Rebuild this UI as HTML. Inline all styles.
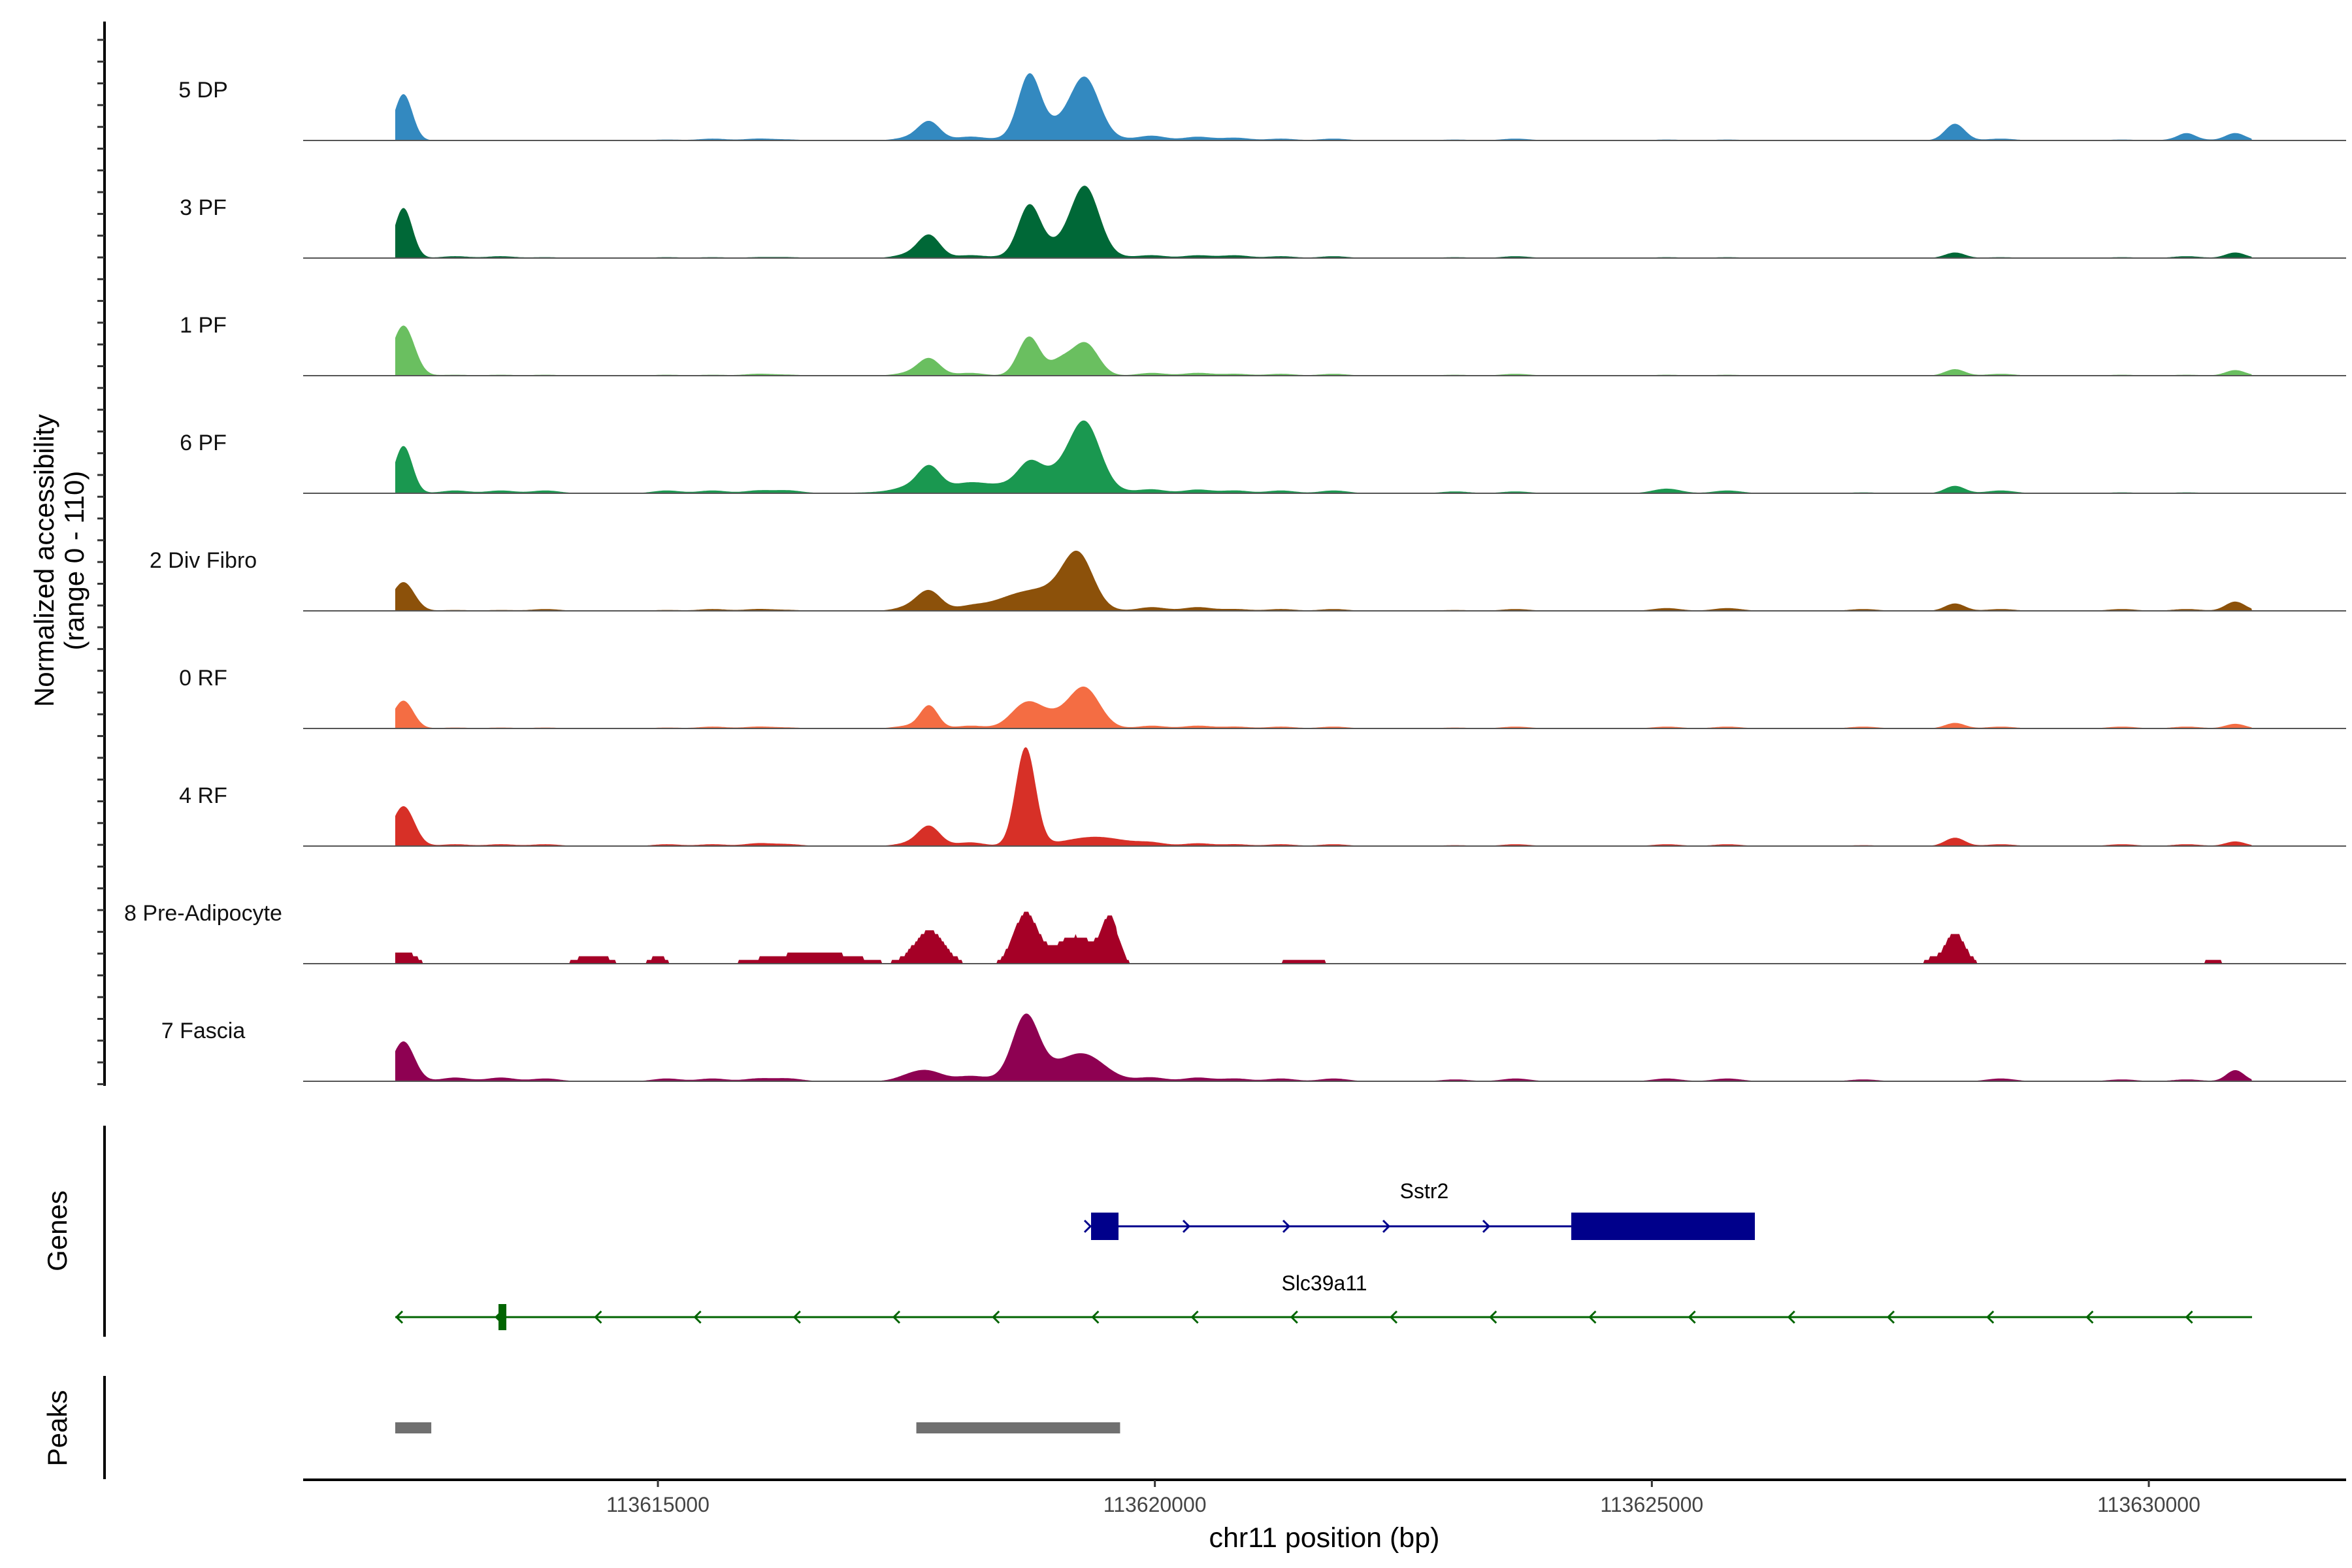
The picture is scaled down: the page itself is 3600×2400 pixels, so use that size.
<!DOCTYPE html>
<html><head><meta charset="utf-8"><style>
html,body{margin:0;padding:0;background:#fff}
svg{display:block;font-family:"Liberation Sans",Arial,sans-serif}
</style></head><body>
<svg id="chart" width="3600" height="2400" viewBox="0 0 3600 2400" xmlns="http://www.w3.org/2000/svg">
<g id="tracks"></g>
<g id="axes"></g>
<g id="genes"></g>
<g id="peaks"></g>
</svg>
<script>
// ---- data ----
const trackNames = ["5 DP","3 PF","1 PF","6 PF","2 Div Fibro","0 RF","4 RF","8 Pre-Adipocyte","7 Fascia"];
const trackColors = ["#3389c0","#006837","#6abf60","#1a9850","#8c510a","#f46d43","#d73027","#a50026","#8e0152"];
// major peaks: centers (bp), heights (normalized 0-110), widths (bp sigma)
const peakPos = [
 [113612440,113617730,113618735,113619300,113619050,113628050,113630870,113630380],
 [113612440,113617730,113618735,113619300,113619050,113628050,113630870],
 [113612440,113617730,113618735,113619050,113619300,113628050,113630870],
 [113612440,113617730,113618735,113619050,113619300,113618300,113628050],
 [113612440,113617730,113618600,113619000,113619230,113628050,113630870],
 [113612440,113617730,113618700,113619000,113619300,113628050,113630870],
 [113612440,113617730,113618700,113619400,113628050,113630870],
 [113612440,113614350,113615000,113616300,113616800,113617730,113618700,113619200,113619550,113621500,113627800,113628050,113630650],
 [113612440,113617730,113618700,113619300,113619000,113630870]
];
const peakHt = [
 [50,20,62,56,18,18,8,5],
 [54,24,50,68,14,6,6],
 [54,18,42,15,35,7,6],
 [51,24,18,20,62,8,8],
 [31,21,14,18,52,8,10],
 [30,24,22,14,38,6,5],
 [43,21,106,10,9,5],
 [14,10,8,8,8,36,54,30,46,6,5,33,5],
 [43,10,63,20,14,12]
];
const peakWid = [
 [90,110,110,140,300,100,100,80],
 [90,110,110,140,300,100,100],
 [110,110,110,110,130,100,100],
 [90,110,110,300,150,600,100],
 [110,120,250,250,150,100,100],
 [100,90,150,250,150,100,100],
 [110,110,100,300,100,100],
 [110,150,80,350,300,150,120,200,80,180,60,100,80],
 [110,150,130,200,350,90]
];
// low background bumps shared positions, per-track heights
const bumpPos = [113612960,113613420,113613870,113615090,113615550,113616010,113616310,113617530,113618140,113619970,113620430,113620810,113621270,113621800,113623020,113623630,113625150,113625760,113627130,113628510,113629730,113630380];
const bumpHt = [
 [0,0,0,1,2,2,1,3,4,5,4,3,2,2,1,2,1,1,0,2,1,3],
 [2,2,1,1,1,1,1,4,3,3,3,3,2,2,1,2,1,1,0,1,1,2],
 [1,1,1,1,1,2,1,3,3,3,3,2,2,2,1,2,1,1,0,2,1,1],
 [3,3,3,3,3,3,3,4,4,4,4,3,3,3,2,2,5,3,1,3,1,1],
 [1,1,2,1,2,2,1,4,4,4,4,2,2,2,1,2,3,3,2,2,2,2],
 [1,1,1,1,2,2,1,3,3,3,3,2,2,2,1,2,2,2,2,2,2,2],
 [2,2,2,2,2,3,2,3,4,3,3,2,2,2,1,2,2,2,1,2,2,2],
 [0,0,0,0,0,0,0,0,0,0,0,0,0,0,0,0,0,0,0,0,0,0],
 [4,4,3,3,3,3,3,5,5,4,4,3,3,3,2,3,3,3,2,3,2,2]
];
const xTicks = [113615000,113620000,113625000,113630000];
const regionStart = 113612357, regionEnd = 113631039;
const peakStarts = [113612357,113617600];
const peakEnds = [113612720,113619650];

// ---- scales ----
const NS="http://www.w3.org/2000/svg";
function X(bp){return 1007+(bp-113615000)*0.152133;}
const base0=215, trackStep=180, yScale=1.42;
function mk(tag,attrs,parent){const e=document.createElementNS(NS,tag);for(const k in attrs)e.setAttribute(k,attrs[k]);parent.appendChild(e);return e;}

const tracks=document.getElementById('tracks');
for(let t=0;t<trackNames.length;t++){
  const by=base0+t*trackStep;
  const g=mk('g',{},tracks);
  
  
  let d='M'+X(regionStart).toFixed(1)+','+by;
  for(let bp=regionStart;bp<=regionEnd;bp+=14){
    let v=0;
    for(let i=0;i<peakPos[t].length;i++){const z=(bp-peakPos[t][i])/peakWid[t][i];v+=peakHt[t][i]*Math.exp(-0.5*z*z);}
    for(let i=0;i<bumpPos.length;i++){const z=(bp-bumpPos[i])/140;v+=bumpHt[t][i]*Math.exp(-0.5*z*z);}
    if(t===7){v=v<3?0:Math.round(v/4)*4;}
    v=Math.min(v,110);
    d+='L'+X(bp).toFixed(1)+','+(by-v*yScale).toFixed(1);
  }
  d+='L'+X(regionEnd).toFixed(1)+','+by+'Z';
  const p=mk('path',{d:d,fill:trackColors[t]},g);
  
  
  const l=mk('line',{x1:464,x2:3591,y1:by,y2:by,stroke:'#555','stroke-width':2},g);
  
  
  const tx=mk('text',{x:311,y:by-66,'font-size':34,'text-anchor':'middle',fill:'#111'},g);
  tx.textContent=trackNames[t];
  
  
}

// ---- axes ----
const axes=document.getElementById('axes');
mk('line',{x1:160,x2:160,y1:33,y2:1662,stroke:'#000','stroke-width':4},axes);
for(let y=61;y<1660;y+=33.3){mk('line',{x1:149,x2:160,y1:y,y2:y,stroke:'#333','stroke-width':3},axes);}
let yt=mk('text',{transform:'translate(82,858) rotate(-90)','font-size':42,'text-anchor':'middle'},axes);
yt.textContent='Normalized accessibility';


let yt2=mk('text',{transform:'translate(128,858) rotate(-90)','font-size':42,'text-anchor':'middle'},axes);
yt2.textContent='(range 0 - 110)';


mk('line',{x1:464,x2:3591,y1:2265,y2:2265,stroke:'#000','stroke-width':4},axes);
for(const tk of xTicks){
  mk('line',{x1:X(tk),x2:X(tk),y1:2265,y2:2276,stroke:'#333','stroke-width':3},axes);
  const tl=mk('text',{x:X(tk),y:2314,'font-size':32,'text-anchor':'middle',fill:'#444'},axes);
  tl.textContent=String(tk);
  
  
}
const xt=mk('text',{x:2027,y:2368,'font-size':43,'text-anchor':'middle'},axes);
xt.textContent='chr11 position (bp)';



// ---- genes ----
const genes=document.getElementById('genes');
mk('line',{x1:160,x2:160,y1:1723,y2:2046,stroke:'#000','stroke-width':4},genes);
let gl=mk('text',{transform:'translate(102,1884) rotate(-90)','font-size':42,'text-anchor':'middle'},genes);
gl.textContent='Genes';


// Sstr2
const sg=mk('g',{},genes);


mk('line',{x1:1668,x2:2686,y1:1877,y2:1877,stroke:'#00008b','stroke-width':3},sg);
mk('rect',{x:1670,y:1856,width:42,height:42,fill:'#00008b'},sg);
mk('rect',{x:2405,y:1856,width:281,height:42,fill:'#00008b'},sg);
for(const ax of [1665,1816,1969,2122,2275]){mk('path',{d:`M${ax-5},${1868}L${ax+4},1877L${ax-5},1886`,fill:'none',stroke:'#00008b','stroke-width':3},sg);}
const st=mk('text',{x:2180,y:1834,'font-size':32,'text-anchor':'middle'},sg);st.textContent='Sstr2';
// Slc39a11
const lg=mk('g',{},genes);


mk('line',{x1:605,x2:3447,y1:2016,y2:2016,stroke:'#006400','stroke-width':3},lg);
mk('rect',{x:763,y:1996,width:12,height:40,fill:'#006400'},lg);
for(let ax=611;ax<3400;ax+=152.2){mk('path',{d:`M${ax+5},2007L${ax-4},2016L${ax+5},2025`,fill:'none',stroke:'#006400','stroke-width':3},lg);}
const lt=mk('text',{x:2027,y:1975,'font-size':32,'text-anchor':'middle'},lg);lt.textContent='Slc39a11';

// ---- peaks ----
const peaks=document.getElementById('peaks');
mk('line',{x1:160,x2:160,y1:2106,y2:2264,stroke:'#000','stroke-width':4},peaks);
let pl=mk('text',{transform:'translate(102,2186) rotate(-90)','font-size':42,'text-anchor':'middle'},peaks);
pl.textContent='Peaks';


for(let i=0;i<peakStarts.length;i++){
  const r=mk('rect',{x:X(peakStarts[i]),y:2177,width:X(peakEnds[i])-X(peakStarts[i]),height:17,fill:'#707070'},peaks);
  
  
}
</script>
</body></html>
